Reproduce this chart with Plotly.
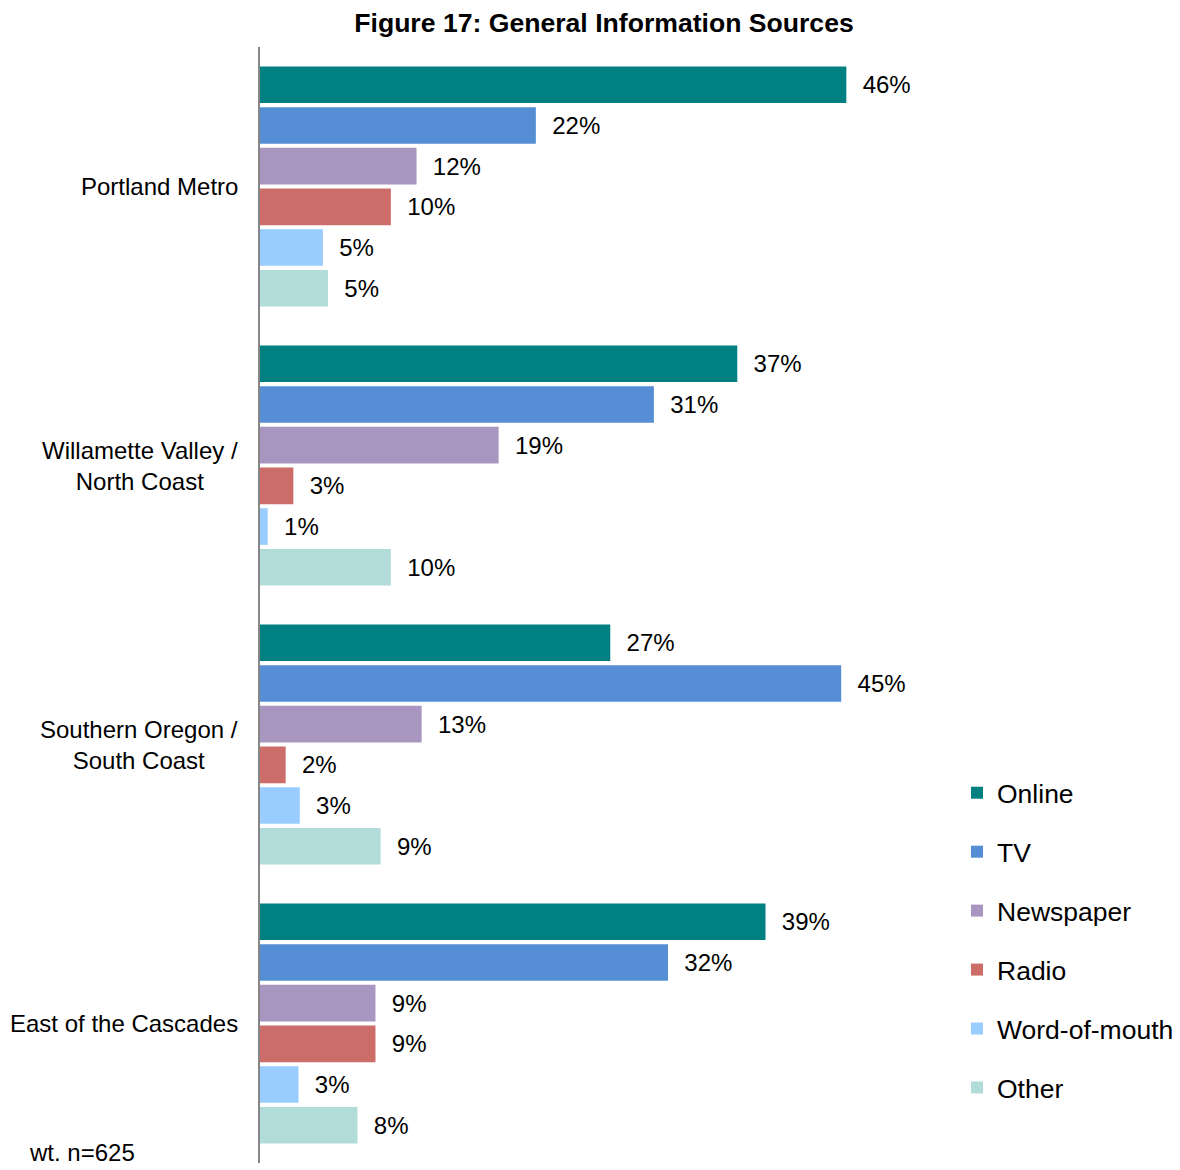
import plotly.graph_objects as go

# ---- data (percent of respondents) ----
categories = ["Portland Metro", "Willamette Valley /<br>North Coast",
              "Southern Oregon /<br>South Coast", "East of the Cascades"]
series_names = ["Online", "TV", "Newspaper", "Radio", "Word-of-mouth", "Other"]
online = [45.7, 37.2, 27.3, 39.4]
tv = [21.5, 30.7, 45.3, 31.8]
newspaper = [12.2, 18.6, 12.6, 9.0]
radio = [10.2, 2.6, 2.0, 9.0]
word_of_mouth = [4.9, 0.6, 3.1, 3.0]
other = [5.3, 10.2, 9.4, 7.6]
colors = ["#008080", "#558ED5", "#A896C0", "#CC6D6A", "#99CCFF", "#B2DCDA"]

title_text = "Figure 17: General Information Sources"
note_text = "wt. n=625"

FONT = "Liberation Sans, Arial, sans-serif"

fig = go.Figure()
for name, vals, col in zip(series_names,
                           [online, tv, newspaper, radio, word_of_mouth, other],
                           colors):
    fig.add_trace(go.Bar(
        name=name, y=categories, x=vals, orientation="h",
        marker=dict(color=col, line=dict(width=0)),
        texttemplate="\u00a0\u00a0%{x:.0f}%", textposition="outside",
        textfont=dict(size=24, color="#000000", family=FONT),
        constraintext="none", cliponaxis=False, legendgroup=name,
        hoverinfo="skip",
    ))

for cat in categories:
    fig.add_annotation(x=0, xref="paper", y=cat, yref="y", text=cat,
                       xanchor="right", yanchor="middle", xshift=-20,
                       align="center", showarrow=False,
                       font=dict(size=24, color="#000000", family=FONT))

fig.add_annotation(x=(27 - 260) / 642, xref="paper", y=(1163.25 - 1153) / 1116.25,
                   yref="paper", text=note_text, xanchor="left", yanchor="middle",
                   showarrow=False, font=dict(size=24, color="#000000", family=FONT))

fig.update_layout(
    width=1180, height=1170,
    margin=dict(l=260, r=278, t=47, b=7),
    paper_bgcolor="white", plot_bgcolor="white",
    barmode="group", bargap=0.125, bargroupgap=0.1,
    title=dict(text="<b>" + title_text + "</b>", x=604 / 1180, xanchor="center",
               y=1 - 23 / 1170, yanchor="middle",
               font=dict(size=26.6, color="#000000", family=FONT)),
    xaxis=dict(visible=False, range=[0, 642 / 12.83]),
    yaxis=dict(autorange="reversed", showline=True, linecolor="#868686",
               linewidth=1.5, showticklabels=False, ticks="", showgrid=False,
               zeroline=False),
    legend=dict(xref="container", yref="container", x=957 / 1180, y=1 - 769 / 1170,
                xanchor="left", yanchor="top", tracegroupgap=21.5,
                font=dict(size=26.5, color="#000000", family=FONT),
                bgcolor="rgba(0,0,0,0)"),
    showlegend=True,
)

fig.write_html("out.html")
